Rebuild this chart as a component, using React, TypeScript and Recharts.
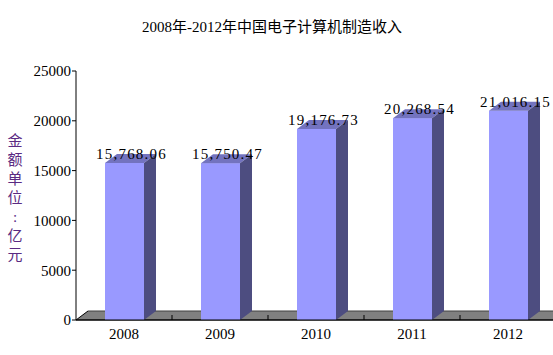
import { BarChart, Bar, XAxis, YAxis, LabelList } from 'recharts';

const years = ['2008', '2009', '2010', '2011', '2012'];
const revenue = [15768.06, 15750.47, 19176.73, 20268.54, 21016.15];
const yTicks = [0, 5000, 10000, 15000, 20000, 25000];
const chartTitle = '2008年-2012年中国电子计算机制造收入';
const yTitle = '金额单位：亿元';

const data = years.map((year, i) => ({ year, revenue: revenue[i] }));

const FONT = "'Liberation Serif', 'Noto Sans CJK SC', serif";
const DX = 12;
const DY = 9;

// plot area, fixed by the margins below
const PLOT_LEFT = 76;
const PLOT_RIGHT = 556;
const PLOT_BOTTOM = 320;
const BAND = (PLOT_RIGHT - PLOT_LEFT) / years.length;

const fmt = (v: number) =>
  v.toLocaleString('en-US', { minimumFractionDigits: 2, maximumFractionDigits: 2 });

const Floor = () => {
  const ticks = years.map((_, i) => PLOT_LEFT + (i + 1) * BAND);
  return (
    <g>
      <polygon
        points={`${PLOT_LEFT},${PLOT_BOTTOM} ${PLOT_LEFT + DX},${PLOT_BOTTOM - DY} ${PLOT_RIGHT + DX},${PLOT_BOTTOM - DY} ${PLOT_RIGHT},${PLOT_BOTTOM}`}
        fill="#808080"
      />
      <line x1={PLOT_LEFT + DX} y1={PLOT_BOTTOM - DY} x2={PLOT_RIGHT + DX} y2={PLOT_BOTTOM - DY} stroke="#404040" />
      <line x1={PLOT_LEFT} y1={PLOT_BOTTOM} x2={PLOT_LEFT + DX} y2={PLOT_BOTTOM - DY} stroke="#000" />
      {ticks.map((t) => (
        <line key={t} x1={t} y1={PLOT_BOTTOM - 5} x2={t} y2={PLOT_BOTTOM} stroke="#000" />
      ))}
      <line x1={PLOT_LEFT} y1={PLOT_BOTTOM} x2={PLOT_RIGHT + DX} y2={PLOT_BOTTOM} stroke="#000" />
    </g>
  );
};

const Bar3D = (props: any) => {
  const { x, y, width, height, index } = props;
  return (
    <g>
      {index === 0 && <Floor />}
      <rect x={x} y={y} width={width} height={height} fill="#9999ff" />
      <polygon
        points={`${x},${y} ${x + DX},${y - DY} ${x + width + DX},${y - DY} ${x + width},${y}`}
        fill="#7373bf"
      />
      <polygon
        points={`${x + width},${y} ${x + width + DX},${y - DY} ${x + width + DX},${y + height - DY} ${x + width},${y + height}`}
        fill="#4d4d80"
      />
    </g>
  );
};

const ValueLabel = (props: any) => {
  const { x, y, width, value } = props;
  return (
    <text
      x={x + width / 2 + DX / 2 + 1}
      y={y - 4}
      textAnchor="middle"
      fontSize={15}
      letterSpacing={1.2}
      fontFamily={FONT}
      fill="#000"
    >
      {fmt(value)}
    </text>
  );
};

const App = () => {
  return (
    <div
      style={{
        position: 'absolute',
        left: 0,
        top: 0,
        width: 553,
        height: 355,
        overflow: 'hidden',
        background: '#fff',
        fontFamily: FONT,
      }}
    >
      <div
        style={{
          position: 'absolute',
          top: 18,
          left: 0,
          width: 544,
          textAlign: 'center',
          fontSize: 15,
          lineHeight: '18px',
          color: '#000',
        }}
      >
        {chartTitle}
      </div>
      <div
        style={{
          position: 'absolute',
          top: 132,
          left: 6,
          width: 18,
          textAlign: 'center',
          fontSize: 15,
          lineHeight: '19px',
          color: '#5a2a82',
        }}
      >
        {yTitle.split('').map((c, i) => (
          <div key={i}>{c === '：' ? ':' : c}</div>
        ))}
      </div>
      <BarChart width={560} height={355} data={data} margin={{ top: 71, right: 4, bottom: 0, left: 0 }}>
        <XAxis
          dataKey="year"
          height={35}
          tickLine={false}
          tickSize={0}
          tickMargin={8}
          axisLine={{ stroke: '#000' }}
          tick={{ fill: '#000', fontSize: 15, fontFamily: FONT }}
        />
        <YAxis
          width={76}
          domain={[0, 25000]}
          ticks={yTicks}
          interval={0}
          tickSize={4}
          tickMargin={1}
          axisLine={{ stroke: '#000' }}
          tickLine={{ stroke: '#000' }}
          tick={{ fill: '#000', fontSize: 15, fontFamily: FONT }}
        />
        <Bar dataKey="revenue" barSize={39} shape={Bar3D} isAnimationActive={false}>
          <LabelList dataKey="revenue" content={ValueLabel} />
        </Bar>
      </BarChart>
    </div>
  );
};

export default App;
